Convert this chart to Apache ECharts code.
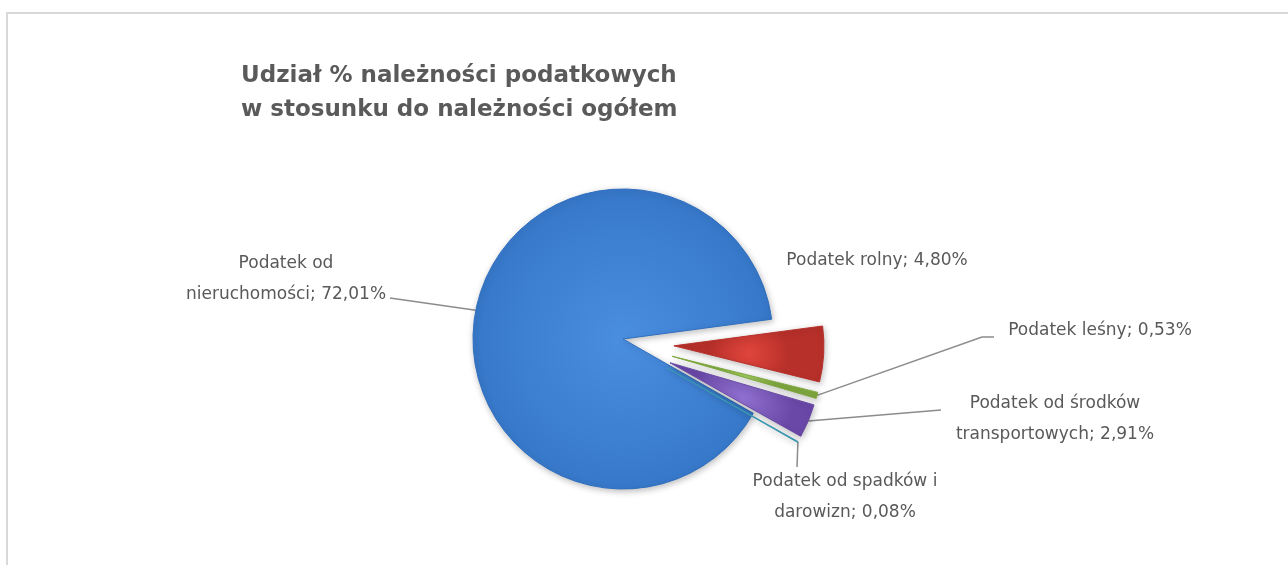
<!DOCTYPE html>
<html>
<head>
<meta charset="utf-8">
<script src="https://cdn.jsdelivr.net/npm/echarts@6/dist/echarts.min.js"></script>
<style>
html,body{margin:0;padding:0;background:#fff;}
#main{width:1288px;height:565px;}
</style>
</head>
<body>
<div id="main"></div>
<script>
const titleLines = ['Udział % należności podatkowych', 'w stosunku do należności ogółem'];
const categories = ['Podatek od\nnieruchomości', 'Podatek rolny', 'Podatek leśny', 'Podatek od środków\ntransportowych', 'Podatek od spadków i\ndarowizn'];
const values = [72.01, 4.80, 0.53, 2.91, 0.08];
const exploded = [false, true, true, true, true];
const colors = [
  ['#4a8ee0', '#2f6fc0'],
  ['#e0453c', '#b8302a'],
  ['#a2cc5e', '#7fa83f'],
  ['#9070d0', '#6a48a8'],
  ['#5ab8d0', '#3a98b0']
];

function fmtPct(v){ return v.toFixed(2).replace('.', ',') + '%'; }

// layout settings
const baseCenter = [623, 339];
const pieRadius = 150;
const startAngle = 330.3;
const explodeDist = 51;

// label placement (centre of text block), and label-line bend points
const labelPos = [
  {x: 286, y: 279, pts: [[390, 298]]},
  {x: 877, y: 261, pts: null},
  {x: 1100, y: 331, pts: [[982, 337], [994, 337]]},
  {x: 1055, y: 419, pts: [[941, 410]]},
  {x: 845, y: 497, pts: [[797, 467]]}
];

const total = values.reduce((a, b) => a + b, 0);
let cum = 0;
const midAngles = values.map(v => {
  const m = startAngle - (cum + v / 2) / total * 360;
  cum += v;
  return m * Math.PI / 180;
});

function makeSeries(k) {
  const c = exploded[k]
    ? [baseCenter[0] + explodeDist * Math.cos(midAngles[k]), baseCenter[1] + 4 - explodeDist * Math.sin(midAngles[k])]
    : baseCenter;
  const data = values.map((v, i) => {
    const vis = i === k;
    return {
      name: categories[i],
      value: v,
      itemStyle: vis ? {
        color: {
          type: 'radial', x: 0.5, y: 0.5, r: 0.7,
          colorStops: [{offset: 0, color: colors[i][0]}, {offset: 1, color: colors[i][1]}]
        },
        borderColor: colors[i][1],
        borderWidth: 1,
        shadowBlur: 6, shadowColor: 'rgba(0,0,0,0.25)', shadowOffsetX: 1, shadowOffsetY: 2
      } : {color: 'rgba(0,0,0,0)', borderWidth: 0, shadowBlur: 0, shadowColor: 'rgba(0,0,0,0)'},
      label: {show: vis},
      labelLine: {show: vis && labelPos[i].pts !== null}
    };
  });
  return {
    type: 'pie',
    name: categories[k],
    center: c,
    radius: [0, pieRadius],
    startAngle: startAngle,
    clockwise: true,
    avoidLabelOverlap: false,
    silent: true,
    data: data,
    label: {
      position: 'outside',
      formatter: p => p.name + '; ' + fmtPct(p.value),
      fontFamily: 'DejaVu Sans',
      fontSize: 17,
      lineHeight: 31,
      color: '#595959',
      align: 'center'
    },
    labelLine: {lineStyle: {color: '#8c8c8c', width: 1.5}},
    emphasis: {disabled: true},
    labelLayout: function (params) {
      const lp = labelPos[params.dataIndex];
      const res = {x: lp.x, y: lp.y, align: 'center', verticalAlign: 'middle'};
      if (lp.pts && params.labelLinePoints) {
        res.labelLinePoints = [params.labelLinePoints[0]].concat(lp.pts);
      }
      return res;
    }
  };
}

const chart = echarts.init(document.getElementById('main'));
chart.setOption({
  animation: false,
  backgroundColor: '#ffffff',
  graphic: [{
    type: 'rect',
    shape: {x: 7, y: 13, width: 1300, height: 600},
    style: {fill: 'none', stroke: '#d9d9d9', lineWidth: 2}
  }],
  title: {
    text: titleLines.join('\n'),
    left: 236, top: 54,
    textStyle: {fontFamily: 'DejaVu Sans', fontSize: 23, fontWeight: 'bold', color: '#5a5a5a', lineHeight: 34}
  },
  series: values.map((v, k) => makeSeries(k))
});
</script>
</body>
</html>
